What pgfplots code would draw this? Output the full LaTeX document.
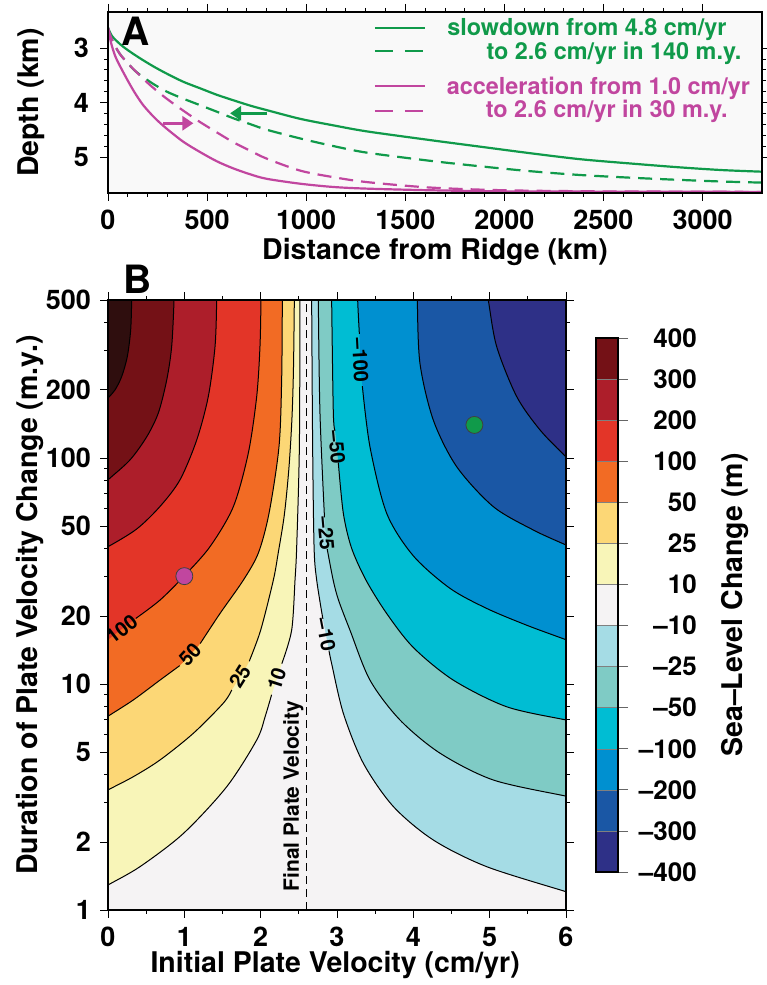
\documentclass[border=0pt]{standalone}
\usepackage{fontspec}
\setmainfont{TeX Gyre Heros}
\usepackage{pgfplots}
\pgfplotsset{compat=1.18}
\usetikzlibrary{arrows.meta}

\definecolor{cDk}{RGB}{47,14,14}
\definecolor{cMa}{RGB}{116,17,22}
\definecolor{cCr}{RGB}{173,30,42}
\definecolor{cRe}{RGB}{227,53,40}
\definecolor{cOr}{RGB}{242,107,36}
\definecolor{cLo}{RGB}{252,215,118}
\definecolor{cPy}{RGB}{248,245,184}
\definecolor{cWh}{RGB}{245,243,244}
\definecolor{cLb}{RGB}{165,220,229}
\definecolor{cTe}{RGB}{127,203,197}
\definecolor{cCy}{RGB}{0,189,211}
\definecolor{cBl}{RGB}{0,144,208}
\definecolor{cDb}{RGB}{26,87,165}
\definecolor{cNa}{RGB}{46,48,135}
\definecolor{gr}{RGB}{16,154,74}
\definecolor{mg}{RGB}{193,70,159}
\definecolor{bgA}{RGB}{249,249,249}

\newcommand\myfs[1]{\fontsize{#1pt}{#1pt}\selectfont\bfseries}

\pgfplotsset{
  myframe/.style={scale only axis, anchor=south west,
    axis line style={line width=1.6pt},
    tick align=outside, major tick length=8pt, minor tick length=4pt,
    every tick/.append style={black, line width=0.9pt},
    every minor tick/.append style={line width=0.7pt},
    label style={font=\myfs{28.5}}, axis on top},
  cline/.style={black, line width=1pt, smooth},
  cfill/.style={draw=none, smooth, forget plot},
}

\begin{document}
\begin{tikzpicture}
\useasboundingbox (0,0) rectangle (766pt,985pt);

% ---------------- Panel A ----------------
\begin{axis}[myframe, at={(108pt,792pt)}, width=654pt, height=181pt,
  xmin=0, xmax=3300, ymin=2.34, ymax=5.66, y dir=reverse,
  xtick={0,500,1000,1500,2000,2500,3000},
  xticklabels={0,500,1000,1500,2000,2500,3000},
  minor x tick num=4,
  ytick={3,4,5}, yticklabels={3,4,5}, minor y tick num=4,
  xticklabel style={font=\myfs{27}, anchor=north, inner sep=0pt, yshift=-9pt},
  yticklabel style={font=\myfs{27}, anchor=east, inner sep=0pt, xshift=-11pt},
  xlabel={Distance from Ridge (km)}, ylabel={Depth (km)},
  xlabel style={at={(axis description cs:0.5,-0.326)}, anchor=center},
  ylabel style={at={(axis description cs:-0.1177,0.5)}, anchor=center},
  axis background/.style={fill=bgA}]
% green solid: slowdown, initial profile
\addplot[gr, line width=2.2pt, smooth] coordinates {(0,2.63) (20,2.78) (61,2.93) (100,3.04) (162,3.19) (230,3.34) (296,3.47) (380,3.62) (465,3.74) (550,3.86) (633,3.96) (720,4.06) (801,4.14) (970,4.30) (1138,4.42) (1306,4.53) (1626,4.69) (1877,4.81) (2130,4.93) (2382,5.04) (2640,5.12) (2886,5.19) (3100,5.24) (3305,5.27)};
% green dashed
\addplot[gr, line width=2.2pt, smooth, dash pattern=on 14pt off 8pt] coordinates {(0,2.63) (20,2.85) (58,3.10) (100,3.28) (143,3.44) (220,3.64) (296,3.80) (380,3.93) (465,4.05) (550,4.17) (633,4.29) (720,4.40) (801,4.50) (970,4.66) (1138,4.80) (1306,4.92) (1626,5.07) (1877,5.17) (2130,5.26) (2382,5.33) (2640,5.38) (2886,5.42) (3100,5.45) (3305,5.47)};
% magenta solid
\addplot[mg, line width=2.2pt, smooth] coordinates {(0,2.63) (15,2.90) (40,3.18) (94,3.56) (135,3.82) (178,4.05) (235,4.28) (296,4.48) (380,4.72) (465,4.91) (550,5.08) (633,5.21) (720,5.32) (801,5.40) (970,5.49) (1138,5.55) (1306,5.58) (1626,5.61) (2000,5.63) (2500,5.635) (3305,5.64)};
% magenta dashed
\addplot[mg, line width=2.2pt, smooth, dash pattern=on 14pt off 8pt] coordinates {(0,2.63) (20,2.85) (58,3.10) (100,3.28) (143,3.44) (212,3.68) (296,3.93) (380,4.15) (465,4.36) (550,4.55) (633,4.73) (720,4.89) (801,5.03) (970,5.25) (1138,5.37) (1306,5.46) (1626,5.56) (2000,5.61) (2500,5.63) (3305,5.64)};
% arrows
\draw[gr, line width=3pt, -{Triangle[length=11pt,width=14pt]}] (axis cs:803,4.198) -- (axis cs:616,4.198);
\draw[mg, line width=3pt, -{Triangle[length=11pt,width=14pt]}] (axis cs:279,4.381) -- (axis cs:431,4.381);
% legend
\draw[gr, line width=2.2pt] (axis cs:1347,2.628) -- (axis cs:1600,2.628);
\draw[gr, line width=2.2pt, dash pattern=on 18pt off 12pt] (axis cs:1347,3.055) -- (axis cs:1600,3.055);
\draw[mg, line width=2.2pt] (axis cs:1347,3.697) -- (axis cs:1600,3.697);
\draw[mg, line width=2.2pt, dash pattern=on 18pt off 12pt] (axis cs:1347,4.156) -- (axis cs:1600,4.156);
\node[gr, anchor=base west, inner sep=0pt, font=\myfs{23.4}] at (axis cs:1711,2.780) {slowdown from 4.8 cm/yr};
\node[gr, anchor=base east, inner sep=0pt, font=\myfs{23.4}] at (axis cs:3197,3.220) {to 2.6 cm/yr in 140 m.y.};
\node[mg, anchor=base west, inner sep=0pt, font=\myfs{23.4}] at (axis cs:1709,3.862) {acceleration from 1.0 cm/yr};
\node[mg, anchor=base east, inner sep=0pt, font=\myfs{23.4}] at (axis cs:3128,4.284) {to 2.6 cm/yr in 30 m.y.};
\end{axis}

% ---------------- Panel B ----------------
\begin{axis}[myframe, at={(108pt,75pt)}, width=458pt, height=610pt,
  xmin=0, xmax=6, ymode=log, ymin=1, ymax=500,
  xtick={0,1,2,3,4,5,6}, xticklabels={0,1,2,3,4,5,6}, minor x tick num=1,
  ytick={1,2,5,10,20,50,100,200,500}, yticklabels={1,2,5,10,20,50,100,200,500},
  minor ytick={3,4,6,7,8,9,30,40,60,70,80,90,300,400},
  xticklabel style={font=\myfs{27}, anchor=north, inner sep=0pt, yshift=-9pt},
  yticklabel style={font=\myfs{27}, anchor=east, inner sep=0pt, xshift=-9pt},
  xlabel={Initial Plate Velocity (cm/yr)},
  ylabel={Duration of Plate Velocity Change (m.y.)},
  xlabel style={at={(axis description cs:0.496,-0.0902)}, anchor=center},
  ylabel style={at={(axis description cs:-0.1703,0.5)}, anchor=center},
  axis background/.style={fill=cWh}]
% ---- positive (sea-level rise) bands
\addplot[cfill, fill=cPy] coordinates {(2.517,700) (2.515,500) (2.507,112) (2.472,40.5) (2.45,28.8) (2.406,17.3) (2.277,12.3) (2.21,10.5) (2.143,8.96) (2.06,7.2) (1.948,5.65) (1.555,3.51) (0.987,2.18) (0.419,1.555) (0,1.29) (-0.25,1.15) (-0.25,700)};
\addplot[cfill, fill=cLo] coordinates {(2.443,700) (2.441,500) (2.43,250) (2.41,150) (2.37,90) (2.31,56) (2.23,38) (2.166,28.8) (2.0,17.3) (1.85,12.6) (1.73,10.8) (1.622,9.41) (1.51,8.22) (1.118,6.05) (0.681,4.61) (0.332,3.89) (0,3.40) (-0.25,3.07) (-0.25,700)};
\addplot[cfill, fill=cOr] coordinates {(2.286,700) (2.284,500) (2.275,221) (2.24,112) (2.11,57) (1.97,38) (1.773,28.8) (1.467,20.5) (1.208,15.1) (1.074,13.5) (0.94,12.06) (0.681,10.4) (0.332,8.5) (0,7.2) (-0.25,6.35) (-0.25,700)};
\addplot[cfill, fill=cRe] coordinates {(2.006,700) (2.004,500) (1.991,311) (1.948,187) (1.838,105) (1.642,60.9) (1.336,40.5) (1.0,30.1) (0.681,23.5) (0.364,19.5) (0.18,17.5) (0,15.7) (-0.25,13.5) (-0.25,700)};
\addplot[cfill, fill=cCr] coordinates {(1.426,700) (1.424,500) (1.402,311) (1.314,187) (1.162,120) (0.943,80) (0.681,61) (0.376,48.5) (0,40.5) (-0.25,37) (-0.25,700)};
\addplot[cfill, fill=cMa] coordinates {(0.867,700) (0.865,500) (0.834,311) (0.769,221) (0.659,158) (0.507,124) (0.288,98) (0,80) (-0.25,67) (-0.25,700)};
\addplot[cfill, fill=cDk] coordinates {(0.312,700) (0.31,500) (0.297,368) (0.253,281) (0.179,229) (0.092,200) (0,184) (-0.25,147) (-0.25,700)};
% ---- negative (sea-level fall) bands
\addplot[cfill, fill=cLb] coordinates {(2.666,700) (2.668,500) (2.681,112) (2.70,40) (2.734,28.8) (2.815,19.4) (2.855,16.5) (2.895,14.05) (2.93,12.3) (3.083,7.42) (3.345,4.46) (3.738,2.87) (4.262,2.04) (4.961,1.555) (6,1.205) (6.25,1.13) (6.25,700)};
\addplot[cfill, fill=cTe] coordinates {(2.753,700) (2.755,500) (2.777,158) (2.836,54.6) (2.855,46.4) (2.872,39.5) (2.95,28.8) (3.02,23.5) (3.17,17.3) (3.432,10.4) (3.825,6.93) (4.35,4.94) (5.048,3.76) (6,3.19) (6.25,3.06) (6.25,700)};
\addplot[cfill, fill=cCy] coordinates {(2.928,700) (2.93,500) (2.952,158) (2.975,132) (2.996,112) (3.017,95.4) (3.083,56.9) (3.19,40) (3.38,28.8) (3.651,20.5) (4.0,14.5) (4.524,10.4) (5.223,7.93) (6,6.93) (6.25,6.64) (6.25,700)};
\addplot[cfill, fill=cBl] coordinates {(3.268,700) (3.271,500) (3.293,354) (3.305,271) (3.332,208) (3.432,112) (3.651,56.9) (4.0,36.9) (4.48,26.5) (4.96,21.6) (5.485,18.2) (6,15.7) (6.25,14.6) (6.25,700)};
\addplot[cfill, fill=cDb] coordinates {(4.05,700) (4.052,500) (4.087,262) (4.262,147) (4.568,91.5) (5.048,60.9) (5.572,48) (6,41.2) (6.25,37.8) (6.25,700)};
\addplot[cfill, fill=cNa] coordinates {(4.91,700) (4.982,500) (5.092,311) (5.354,187) (5.66,133) (6,101) (6.25,82.6) (6.25,700)};
% ---- contour lines
\addplot[cline] coordinates {(2.517,700) (2.515,500) (2.507,112) (2.472,40.5) (2.45,28.8) (2.406,17.3) (2.277,12.3)};
\addplot[cline] coordinates {(2.143,8.96) (2.06,7.2) (1.948,5.65) (1.555,3.51) (0.987,2.18) (0.419,1.555) (0,1.29) (-0.25,1.15)};
\addplot[cline] coordinates {(2.443,700) (2.441,500) (2.43,250) (2.41,150) (2.37,90) (2.31,56) (2.23,38) (2.166,28.8) (2.0,17.3) (1.85,12.6)};
\addplot[cline] coordinates {(1.622,9.41) (1.51,8.22) (1.118,6.05) (0.681,4.61) (0.332,3.89) (0,3.40) (-0.25,3.07)};
\addplot[cline] coordinates {(2.286,700) (2.284,500) (2.275,221) (2.24,112) (2.11,57) (1.97,38) (1.773,28.8) (1.467,20.5) (1.208,15.1)};
\addplot[cline] coordinates {(0.94,12.06) (0.681,10.4) (0.332,8.5) (0,7.2) (-0.25,6.35)};
\addplot[cline] coordinates {(2.006,700) (2.004,500) (1.991,311) (1.948,187) (1.838,105) (1.642,60.9) (1.336,40.5) (1.0,30.1) (0.681,23.5) (0.364,19.5)};
\addplot[cline] coordinates {(1.426,700) (1.424,500) (1.402,311) (1.314,187) (1.162,120) (0.943,80) (0.681,61) (0.376,48.5) (0,40.5) (-0.25,37)};
\addplot[cline] coordinates {(0.867,700) (0.865,500) (0.834,311) (0.769,221) (0.659,158) (0.507,124) (0.288,98) (0,80) (-0.25,67)};
\addplot[cline] coordinates {(0.312,700) (0.31,500) (0.297,368) (0.253,281) (0.179,229) (0.092,200) (0,184) (-0.25,147)};
\addplot[cline] coordinates {(2.666,700) (2.668,500) (2.681,112) (2.70,40) (2.734,28.8) (2.815,19.4)};
\addplot[cline] coordinates {(2.895,14.05) (2.93,12.3) (3.083,7.42) (3.345,4.46) (3.738,2.87) (4.262,2.04) (4.961,1.555) (6,1.205) (6.25,1.13)};
\addplot[cline] coordinates {(2.753,700) (2.755,500) (2.777,158) (2.836,54.6)};
\addplot[cline] coordinates {(2.872,39.5) (2.95,28.8) (3.02,23.5) (3.17,17.3) (3.432,10.4) (3.825,6.93) (4.35,4.94) (5.048,3.76) (6,3.19) (6.25,3.06)};
\addplot[cline] coordinates {(2.928,700) (2.93,500) (2.952,158) (2.975,132)};
\addplot[cline] coordinates {(3.017,95.4) (3.083,56.9) (3.19,40) (3.38,28.8) (3.651,20.5) (4.0,14.5) (4.524,10.4) (5.223,7.93) (6,6.93) (6.25,6.64)};
\addplot[cline] coordinates {(3.268,700) (3.271,500) (3.293,354)};
\addplot[cline] coordinates {(3.332,208) (3.432,112) (3.651,56.9) (4.0,36.9) (4.48,26.5) (4.96,21.6) (5.485,18.2) (6,15.7) (6.25,14.6)};
\addplot[cline] coordinates {(4.05,700) (4.052,500) (4.087,262) (4.262,147) (4.568,91.5) (5.048,60.9) (5.572,48) (6,41.2) (6.25,37.8)};
\addplot[cline] coordinates {(4.91,700) (4.982,500) (5.092,311) (5.354,187) (5.66,133) (6,101) (6.25,82.6)};
% final plate velocity
\addplot[black, line width=0.9pt, dash pattern=on 8pt off 5pt] coordinates {(2.6,1) (2.6,500)};
\node[rotate=90, font=\myfs{21}] at (axis cs:2.428,3.19) {Final Plate Velocity};
% contour labels
\node[rotate=38, font=\myfs{20}] at (axis cs:0.18,17.5) {100};
\node[rotate=47, font=\myfs{20}] at (axis cs:1.074,13.5) {50};
\node[rotate=58, font=\myfs{20}] at (axis cs:1.73,10.8) {25};
\node[rotate=72, font=\myfs{20}] at (axis cs:2.21,10.5) {10};
\node[rotate=-79, font=\myfs{20}] at (axis cs:2.855,16.5) {--10};
\node[rotate=-85, font=\myfs{20}] at (axis cs:2.855,46.4) {--25};
\node[rotate=-84, font=\myfs{20}] at (axis cs:2.996,112) {--50};
\node[rotate=-87, font=\myfs{20}] at (axis cs:3.305,271) {--100};
% example points
\addplot[only marks, mark=*, mark size=8.5pt, mark options={fill=mg, draw=black!75, line width=0.8pt}] coordinates {(1.0,30)};
\addplot[only marks, mark=*, mark size=8.5pt, mark options={fill=gr, draw=black!75, line width=0.8pt}] coordinates {(4.8,140)};
\end{axis}

% ---------------- Colour bar ----------------
\begin{axis}[scale only axis, anchor=south west, at={(596pt,113pt)}, width=22pt, height=534pt,
  xmin=0, xmax=1, ymin=0, ymax=13, xtick=\empty,
  ytick={0,1,2,3,4,5,6,7,8,9,10,11,12,13},
  yticklabels={--400,--300,--200,--100,--50,--25,--10,10,25,50,100,200,300,400},
  ytick pos=right, yticklabel pos=right, tick align=outside, major tick length=10pt,
  every tick/.append style={black!60, line width=0.8pt},
  yticklabel style={font=\myfs{26}, anchor=east, inner sep=0pt, xshift=69pt},
  axis line style={line width=1.6pt}, axis on top,
  ylabel={Sea--Level Change (m)},
  ylabel style={font=\myfs{28.5}, at={(axis description cs:6.318,0.5)}, anchor=center}]
\addplot[fill=cNa, draw=black!50] coordinates {(0,0) (1,0) (1,1) (0,1)};
\addplot[fill=cDb, draw=black!50] coordinates {(0,1) (1,1) (1,2) (0,2)};
\addplot[fill=cBl, draw=black!50] coordinates {(0,2) (1,2) (1,3) (0,3)};
\addplot[fill=cCy, draw=black!50] coordinates {(0,3) (1,3) (1,4) (0,4)};
\addplot[fill=cTe, draw=black!50] coordinates {(0,4) (1,4) (1,5) (0,5)};
\addplot[fill=cLb, draw=black!50] coordinates {(0,5) (1,5) (1,6) (0,6)};
\addplot[fill=cWh, draw=black!50] coordinates {(0,6) (1,6) (1,7) (0,7)};
\addplot[fill=cPy, draw=black!50] coordinates {(0,7) (1,7) (1,8) (0,8)};
\addplot[fill=cLo, draw=black!50] coordinates {(0,8) (1,8) (1,9) (0,9)};
\addplot[fill=cOr, draw=black!50] coordinates {(0,9) (1,9) (1,10) (0,10)};
\addplot[fill=cRe, draw=black!50] coordinates {(0,10) (1,10) (1,11) (0,11)};
\addplot[fill=cCr, draw=black!50] coordinates {(0,11) (1,11) (1,12) (0,12)};
\addplot[fill=cMa, draw=black!50] coordinates {(0,12) (1,12) (1,13) (0,13)};
\end{axis}

\node[font=\myfs{39}] at (135.5pt,954pt) {A};
\node[font=\myfs{39}] at (138pt,706pt) {B};
\end{tikzpicture}
\end{document}
